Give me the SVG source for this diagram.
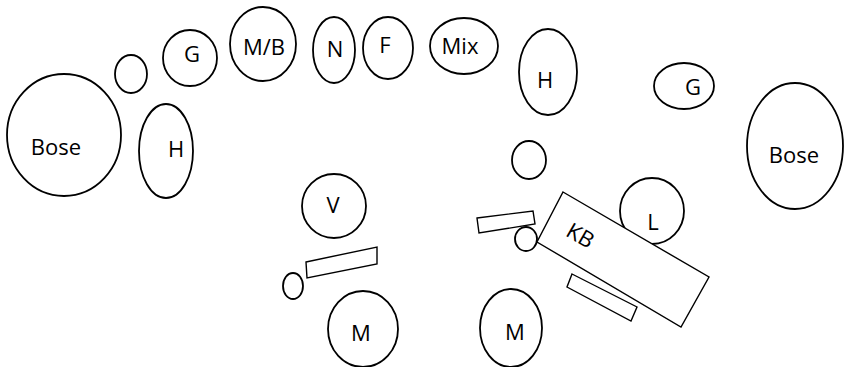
<svg xmlns="http://www.w3.org/2000/svg" width="846" height="367" viewBox="0 0 846 367">
<style>
.e{fill:none;stroke:#000;stroke-width:1.8}
.r{fill:#fff;stroke:#000;stroke-width:1.4}
.t{font-family:"Open Sans","Liberation Sans",Arial,sans-serif;font-size:22px;fill:#000;text-anchor:middle}
</style>
<rect width="846" height="367" fill="#fff"/>
<g id="bose-left"><ellipse class="e" cx="64" cy="135" rx="57" ry="61"/><text class="t" x="56" y="155">Bose</text></g>
<g id="circle-left"><ellipse class="e" cx="131" cy="74" rx="16" ry="19"/></g>
<g id="g-left"><ellipse class="e" cx="190" cy="58" rx="27" ry="28"/><text class="t" x="192" y="62">G</text></g>
<g id="mb"><ellipse class="e" cx="263" cy="44" rx="33" ry="37"/><text class="t" x="264" y="55">M/B</text></g>
<g id="h-left"><ellipse class="e" cx="166" cy="151" rx="27" ry="47"/><text class="t" x="176" y="157">H</text></g>
<g id="n"><ellipse class="e" cx="334" cy="50" rx="21" ry="33"/><text class="t" x="335" y="57">N</text></g>
<g id="f"><ellipse class="e" cx="388" cy="48" rx="25" ry="31"/><text class="t" x="385" y="53">F</text></g>
<g id="mix"><ellipse class="e" cx="464" cy="46" rx="34" ry="28"/><text class="t" x="460" y="54">Mix</text></g>
<g id="h-right"><ellipse class="e" cx="548" cy="72" rx="29" ry="43"/><text class="t" x="545" y="88">H</text></g>
<g id="circle-mid"><ellipse class="e" cx="529" cy="160" rx="17" ry="19"/></g>
<g id="g-right"><ellipse class="e" cx="684" cy="86" rx="30" ry="23"/><text class="t" x="693" y="95">G</text></g>
<g id="bose-right"><ellipse class="e" cx="795" cy="146" rx="48" ry="63"/><text class="t" x="794" y="163">Bose</text></g>
<g id="v"><ellipse class="e" cx="334" cy="206" rx="32" ry="32"/><text class="t" x="333" y="213">V</text></g>
<g id="stand-left"><polygon class="r" points="306,262 377,247 377,264 307,278"/></g>
<g id="circle-small-left"><ellipse class="e" cx="293" cy="286" rx="10" ry="13"/></g>
<g id="m-left"><ellipse class="e" cx="363" cy="329" rx="35" ry="38"/><text class="t" x="361" y="341">M</text></g>
<g id="stand-mid"><polygon class="r" points="477,218 533,211 535,224 479,233"/></g>
<g id="circle-small-mid"><ellipse class="e" cx="526" cy="239" rx="11" ry="12"/></g>
<g id="m-right"><ellipse class="e" cx="511" cy="328" rx="31" ry="39"/><text class="t" x="515" y="340">M</text></g>
<g id="l"><ellipse class="e" cx="652" cy="211" rx="32" ry="33"/></g>
<g id="kb"><polygon class="r" points="563,192 709,277 681,327 537,242"/><text class="t" x="580" y="243" transform="rotate(30 580 236)">KB</text></g>
<g id="l-label"><text class="t" x="653" y="230">L</text></g>
<g id="stand-kb"><polygon class="r" points="572,274 637,307 631,321 567,287"/></g>
</svg>
